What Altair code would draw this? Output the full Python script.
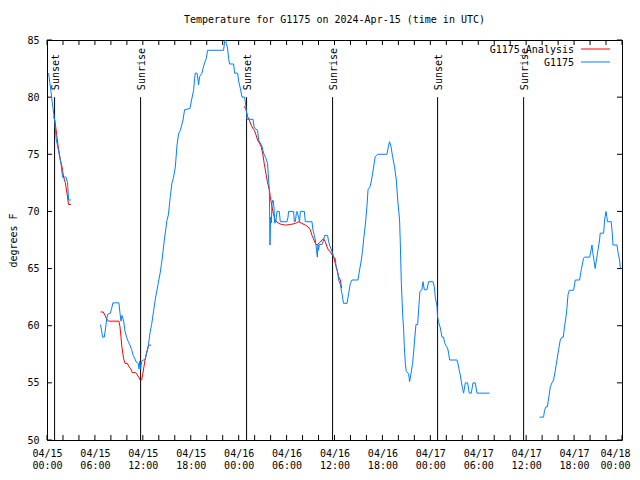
import altair as alt
import pandas as pd

TITLE = "Temperature for G1175 on 2024-Apr-15 (time in UTC)"
Y_TITLE = "degrees F"
series_names = ["G1175_Analysis", "G1175"]
series_colors = ["#ff0000", "#0080ff"]

# hours since 2024-04-15 00:00 UTC, temperature in degrees F
# --- G1175 observations ---
obs1_t = [0.2, 0.5, 0.65, 0.83, 0.95, 1.16, 1.5, 1.75, 1.95, 2.38, 2.58, 2.7, 3.0]
obs1_v = [82.1, 80.5, 79.6, 78.6, 78.0, 76.3, 75.1, 74.2, 73.0, 73.0, 72.5, 71.0, 71.0]

obs2_t = [6.70, 6.83, 6.96, 7.17, 7.34, 7.46, 7.59, 7.93, 8.09, 8.26, 9.00, 9.14, 9.27, 9.39,
          9.60, 9.77, 9.97, 10.18, 10.39, 10.60, 10.80, 11.00, 11.20, 11.43, 11.52, 11.62,
          11.72, 11.85, 12.06, 12.27, 12.47, 12.68, 12.90, 13.10, 13.35, 13.56, 13.90, 14.19,
          14.45, 14.69, 15.02, 15.20, 15.44, 15.65, 15.85, 16.07, 16.28, 16.48, 16.70, 17.03,
          17.23, 17.90, 18.10, 18.36, 18.48, 18.57, 18.78, 18.91, 18.98, 19.11, 19.41, 19.53,
          19.73, 19.95, 20.11, 22.11, 22.24, 22.36, 22.45, 22.61, 22.74, 22.86, 23.37, 23.49,
          23.87, 24.00, 24.20, 24.42, 24.75, 24.83, 24.95, 25.04, 25.80, 25.96, 26.37, 26.50,
          26.70, 26.92, 27.12, 27.42, 27.62, 27.75, 27.84, 27.87, 27.92, 28.00, 28.09, 28.17,
          28.30, 28.42, 28.50, 28.63, 28.80, 29.09, 29.21, 30.05, 30.18, 30.25, 30.88, 30.97,
          31.09, 31.22, 31.30, 31.50, 31.63, 31.72, 32.22, 32.35, 33.18, 33.30, 33.47, 33.60,
          33.72, 33.85, 33.93, 34.00, 34.10, 34.44, 34.64, 34.76, 35.14, 35.26, 35.47, 35.69,
          35.90, 36.10, 36.19, 36.39, 36.52, 36.73, 36.94, 37.06, 37.14, 37.57, 37.77, 37.98,
          38.19, 38.94, 39.10, 39.36, 39.52, 39.64, 39.86, 40.07, 40.20, 40.48, 40.70, 40.90,
          41.10, 41.40, 42.57, 42.78, 42.90, 43.07, 43.27, 43.52, 43.74, 43.95, 44.15, 44.24,
          44.37, 44.53, 44.66, 44.74, 44.87, 44.99, 45.28, 45.40, 45.58, 45.78, 45.90, 46.03,
          46.20, 46.41, 46.53, 46.70, 46.95, 47.08, 47.25, 47.58, 47.78, 48.33, 48.50, 48.62,
          48.83, 48.90, 49.03, 49.25, 49.33, 49.46, 49.66, 49.79, 50.00, 50.16, 50.29, 50.41,
          51.34, 51.46, 51.62, 51.75, 51.88, 52.04, 52.17, 52.38, 52.67, 52.88, 53.13, 53.34,
          53.63, 53.84, 55.42]
obs2_v = [60.1, 59.6, 59.0, 59.0, 59.8, 60.5, 61.0, 61.1, 61.5, 62.0, 62.0, 61.1, 60.4, 60.9,
          60.4, 59.5, 59.0, 58.6, 58.3, 57.9, 57.4, 57.1, 56.8, 56.7, 56.2, 56.9,
          56.2, 56.9, 57.0, 57.0, 57.6, 58.2, 59.4, 60.1, 61.3, 62.3, 63.6, 64.7,
          66.0, 67.5, 69.2, 69.7, 71.3, 72.5, 73.0, 73.9, 75.8, 76.8, 77.1, 78.0,
          78.9, 79.0, 79.75, 80.6, 81.65, 82.1, 82.1, 81.5, 81.06, 81.8, 82.1, 82.5,
          83.0, 83.4, 84.1, 84.1, 84.85, 85.0, 84.7, 84.3, 83.4, 82.9, 82.9, 82.1,
          82.1, 81.4, 80.8, 80.0, 80.0, 79.6, 78.9, 78.06, 78.06, 77.3, 77.1, 76.25,
          76.0, 75.7, 75.1, 74.65, 74.2, 72.75, 71.9, 70.1, 67.06, 69.5, 69.0, 70.7,
          71.0, 70.4, 69.0, 69.0, 70.0, 70.0, 69.1, 69.1, 69.5, 70.0, 70.0, 69.1,
          69.1, 69.8, 70.0, 69.5, 69.1, 70.0, 70.0, 69.1, 69.1, 68.4, 67.9, 67.5,
          66.8, 66.0, 67.1, 66.6, 67.1, 67.1, 67.5, 67.9, 67.9, 67.35, 66.9, 66.5,
          66.0, 65.9, 65.2, 64.7, 64.0, 63.6, 62.8, 62.25, 61.96, 61.96, 62.8, 63.7,
          64.0, 64.0, 64.7, 65.75, 66.6, 67.5, 68.8, 70.5, 71.9, 72.2, 73.0, 73.9,
          74.8, 75.0, 75.0, 75.8, 76.1, 75.7, 74.8, 73.9, 72.75, 70.7, 69.25, 67.2,
          63.7, 61.1, 59.6, 58.2, 56.7, 56.0, 55.8, 55.1, 55.8, 56.7, 57.6, 58.75,
          60.1, 60.1, 61.4, 63.0, 63.15, 63.85, 63.15, 63.15, 63.85, 63.85, 63.4, 62.5,
          61.7, 60.8, 60.35, 59.8, 59.5, 59.0, 59.0, 58.5, 58.2, 58.05, 57.6, 57.0,
          57.0, 56.7, 56.1, 55.7, 55.1, 54.5, 54.1, 55.0, 55.0, 54.1, 54.1, 55.0,
          55.0, 54.1, 54.1]

obs3_t = [61.68, 62.18, 62.30, 62.48, 62.65, 62.81, 63.02, 63.23, 63.43, 63.65, 63.86, 64.06,
          64.27, 64.48, 64.65, 64.80, 64.99, 65.10, 65.24, 65.40, 65.94, 66.15, 66.69, 66.90,
          67.19, 67.30, 67.94, 68.12, 68.24, 68.36, 68.52, 68.64, 68.76, 68.99, 69.19, 69.27,
          69.70, 69.82, 70.00, 70.10, 70.19, 70.65, 70.78, 70.87, 71.37, 71.53, 71.70, 71.80]
obs3_v = [52.0, 52.0, 52.6, 52.9, 52.9, 53.6, 54.65, 55.0, 55.25, 56.1, 57.0, 57.9,
          58.75, 59.0, 59.0, 59.9, 60.8, 61.5, 62.7, 63.1, 63.1, 64.0, 64.0, 64.9,
          65.9, 66.0, 66.0, 66.6, 67.06, 66.3, 65.6, 65.0, 65.6, 66.6, 67.5, 68.1,
          68.1, 69.25, 70.0, 69.55, 69.1, 69.1, 68.1, 67.06, 67.06, 66.3, 65.75, 65.0]

# --- G1175 analysis ---
ana1_t = [0.83, 1.0, 1.38, 1.67, 1.88, 2.08, 2.3, 2.5, 2.7, 3.0]
ana1_v = [78.3, 77.9, 75.8, 74.5, 73.9, 73.0, 72.5, 71.6, 70.6, 70.6]

ana2_t = [6.7, 7.05, 7.26, 7.46, 7.68, 9.0, 9.14, 9.27, 9.35, 9.47, 9.6, 9.77, 10.06, 10.27,
          10.47, 10.68, 11.1, 11.3, 11.52, 11.64, 11.85, 11.97, 12.14, 12.27, 12.47, 12.68,
          12.8, 13.02]
ana2_v = [61.2, 61.2, 60.9, 60.6, 60.4, 60.4, 59.9, 59.0, 58.3, 57.7, 57.1, 56.7, 56.7, 56.4,
          56.25, 55.9, 55.9, 55.7, 55.45, 55.25, 55.25, 55.7, 56.4, 57.0, 57.6, 58.2,
          58.3, 58.3]

ana3_t = [24.7, 24.92, 25.12, 25.33, 25.54, 25.75, 25.96, 26.17, 26.37, 26.58, 26.8, 27.0,
          27.2, 27.42, 27.62, 27.84, 27.96, 28.17, 28.37, 28.58, 28.8, 29.2, 29.84, 30.46,
          31.1, 31.5, 31.93, 32.35, 32.68, 32.97, 33.18, 33.38, 33.6, 33.81, 34.1, 34.44,
          34.64, 34.85, 35.06, 35.26, 35.47, 35.69, 35.9, 36.1, 36.31, 36.52, 36.73, 36.85, 36.9]
ana3_v = [79.2, 78.9, 78.3, 78.0, 77.6, 77.3, 77.1, 76.7, 76.25, 76.0, 75.7, 75.1,
          74.2, 73.3, 72.5, 71.9, 71.3, 70.4, 69.7, 69.25, 69.05, 68.9, 68.8, 68.85,
          68.95, 69.1, 68.95, 68.8, 68.65, 68.4, 67.9, 67.6, 67.2, 67.06, 67.25, 67.5,
          67.6, 67.35, 66.9, 66.6, 66.5, 66.2, 66.0, 65.45, 64.9, 64.3, 64.0, 63.5, 63.3]

sun_labels = ["Sunset", "Sunrise", "Sunset", "Sunrise", "Sunset", "Sunrise"]
sun_t = [0.95, 11.72, 24.99, 35.76, 48.91, 59.68]
sun_lo = 50
sun_hi = 80

x_ticks = list(range(0, 73, 2))
y_ticks = [50, 55, 60, 65, 70, 75, 80, 85]

FONT = "DejaVu Sans Mono"
W, H = 575, 400
TICK = 5


def seg(series, sid, t, v):
    return pd.DataFrame({"series": series, "seg": sid, "t": t, "v": v})


obs_df = pd.concat([seg("G1175", 1, obs1_t, obs1_v),
                    seg("G1175", 2, obs2_t, obs2_v),
                    seg("G1175", 3, obs3_t, obs3_v)], ignore_index=True)
ana_df = pd.concat([seg("G1175_Analysis", 1, ana1_t, ana1_v),
                    seg("G1175_Analysis", 2, ana2_t, ana2_v),
                    seg("G1175_Analysis", 3, ana3_t, ana3_v)], ignore_index=True)
sun_df = pd.DataFrame({"label": sun_labels, "t": sun_t, "lo": sun_lo, "hi": sun_hi})
xt_df = pd.DataFrame({"t": x_ticks})
yt_df = pd.DataFrame({"v": y_ticks})

xscale = alt.Scale(domain=[0, 72], nice=False, zero=False)
yscale = alt.Scale(domain=[50, 85], nice=False, zero=False)
color = alt.Color("series:N", scale=alt.Scale(domain=series_names, range=series_colors), legend=None)

label_expr = ("datum.value % 6 == 0 ? ['04/' + (15 + floor(datum.value / 24)), "
              "((datum.value % 24) < 10 ? '0' : '') + (datum.value % 24) + ':00'] : ''")

ax_bottom = alt.Axis(orient="bottom", values=x_ticks, labelExpr=label_expr, domain=False,
                     ticks=False, labelPadding=8, labelLineHeight=12,
                     labelOffset={"condition": {"test": "datum.value >= 72", "value": -7}, "value": 0},
                     labelOverlap=False, labelFlush=False, labelAngle=0, labelBaseline="top",
                     grid=False, title=None)
ax_left = alt.Axis(orient="left", values=y_ticks, domain=False, ticks=False,
                   labelPadding=8, labelFlush=False, labelOverlap=False, grid=False,
                   title=Y_TITLE, titlePadding=8)


def X(field):
    return alt.X(field, scale=xscale, axis=ax_bottom)


def Y(field):
    return alt.Y(field, scale=yscale, axis=ax_left)


# inward tick marks on all four sides (gnuplot style)
tick_layers = [
    alt.Chart(xt_df).mark_rule(color="black", strokeWidth=1).encode(
        x=X("t:Q"), y=alt.value(H), y2=alt.value(H - TICK)),
    alt.Chart(xt_df).mark_rule(color="black", strokeWidth=1).encode(
        x=X("t:Q"), y=alt.value(0), y2=alt.value(TICK)),
    alt.Chart(yt_df).mark_rule(color="black", strokeWidth=1).encode(
        y=Y("v:Q"), x=alt.value(0), x2=alt.value(TICK)),
    alt.Chart(yt_df).mark_rule(color="black", strokeWidth=1).encode(
        y=Y("v:Q"), x=alt.value(W), x2=alt.value(W - TICK)),
]

sun_rules = alt.Chart(sun_df).mark_rule(color="black", strokeWidth=1).encode(
    x=X("t:Q"),
    y=Y("lo:Q"),
    y2="hi:Q",
)
sun_text = alt.Chart(sun_df).mark_text(
    angle=270, align="left", baseline="middle", dx=7, dy=1.5,
    font=FONT, fontSize=10, color="black",
).encode(
    x=X("t:Q"),
    y=Y("hi:Q"),
    text="label:N",
)

red = alt.Chart(ana_df).mark_line(strokeWidth=1, clip=True).encode(
    x=X("t:Q"),
    y=Y("v:Q"),
    color=color,
    detail="seg:N",
)
blue = alt.Chart(obs_df).mark_line(strokeWidth=1, clip=True).encode(
    x=X("t:Q"),
    y=Y("v:Q"),
    color=color,
    detail="seg:N",
)

# legend (top right, label left of line sample)
legend_layers = []
for i, (name, col) in enumerate(zip(series_names, series_colors)):
    yy = 9 + 13 * i
    legend_layers.append(
        alt.Chart(pd.DataFrame({"name": [name]})).mark_rule(color=col, strokeWidth=1).encode(
            x=alt.value(534), x2=alt.value(563), y=alt.value(yy)))
    legend_layers.append(
        alt.Chart(pd.DataFrame({"name": [name]})).mark_text(
            align="right", baseline="middle", font=FONT, fontSize=10, color="black").encode(
            x=alt.value(527), y=alt.value(yy + 1), text="name:N"))

chart = alt.layer(*tick_layers, sun_rules, sun_text, red, blue, *legend_layers).properties(
    width=W, height=H,
    autosize=alt.AutoSizeParams(type="none"),
    padding={"left": 39, "top": 32, "right": 10, "bottom": 32},
    background="white",
    title=alt.TitleParams(TITLE, font=FONT, fontSize=10, fontWeight="normal",
                          color="black", anchor="middle", offset=10),
).configure_view(
    stroke="black", strokeWidth=1
).configure_axis(
    labelFont=FONT, labelFontSize=10, labelColor="black",
    titleFont=FONT, titleFontSize=10, titleFontWeight="normal", titleColor="black",
)

chart.save("out.html", embed_options={"renderer": "svg", "actions": False})
